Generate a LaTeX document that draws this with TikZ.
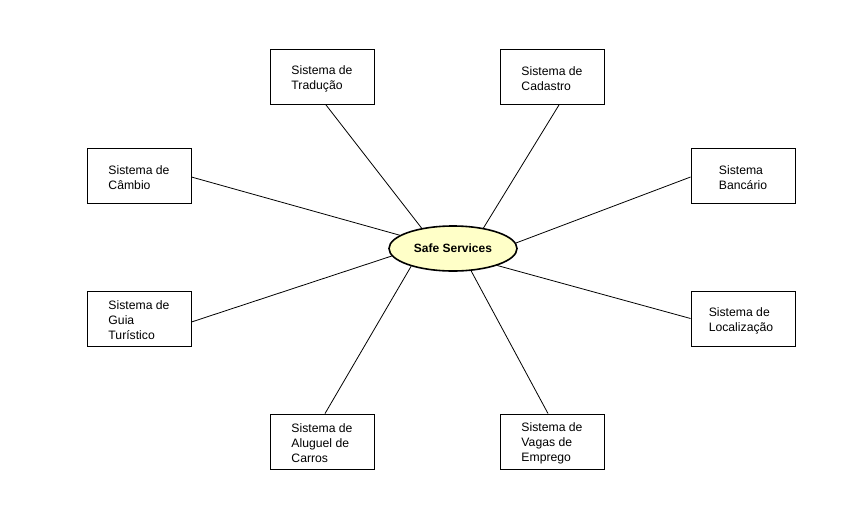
\documentclass[tikz,border=0pt]{standalone}
\usepackage{fontspec}
\setmainfont{Liberation Sans}
\usetikzlibrary{shapes.geometric}
\definecolor{ellfill}{HTML}{FFFFC8}
\begin{document}
\begin{tikzpicture}[x=1pt,y=-1pt,
  sysbox/.style={draw, line width=0.9pt, minimum width=104pt, minimum height=55pt, inner sep=0pt},
  systext/.style={inner sep=0pt, align=left, font=\fontsize{12.2}{15}\selectfont},
  hub/.style={ellipse, draw, line width=1.6pt, fill=ellfill, minimum width=128pt, minimum height=45pt,
    inner sep=0pt, font=\fontsize{12}{15}\selectfont\bfseries},
  link/.style={line width=0.8pt}]
\useasboundingbox (0,0) rectangle (853,517);
\node[hub] (safe) at (453,248.5) {Safe Services};
\node[sysbox] (trad) at (322,77) {};
\node[sysbox] (cad) at (552,77) {};
\node[sysbox] (camb) at (139,175.5) {};
\node[sysbox] (banc) at (743,175.5) {};
\node[sysbox] (guia) at (139,318.5) {};
\node[sysbox] (loc) at (743,318.5) {};
\node[sysbox] (alug) at (322,441.5) {};
\node[sysbox] (vagas) at (552,441.5) {};
\node[systext] (tradt) at ([yshift=-2pt]trad.center) {Sistema de\\Tradução};
\node[systext] (cadt) at ([yshift=-2pt]cad.center) {Sistema de\\Cadastro};
\node[systext] (cambt) at ([yshift=-2pt]camb.center) {Sistema de\\Câmbio};
\node[systext] (banct) at ([yshift=-2pt]banc.center) {Sistema\\Bancário};
\node[systext] (guiat) at ([yshift=-2pt]guia.center) {Sistema de\\Guia\\Turístico};
\node[systext] (loct) at ([yshift=-2pt,xshift=-2pt]loc.center) {Sistema de\\Localização};
\node[systext] (alugt) at ([yshift=-2pt]alug.center) {Sistema de\\Aluguel de\\Carros};
\node[systext] (vagast) at ([yshift=-2pt]vagas.center) {Sistema de\\Vagas de\\Emprego};
\draw[link] ([xshift=4pt]trad.south) -- (safe.147.8);
\draw[link] ([xshift=7pt]cad.south) -- (safe.34.5);
\draw[link] ([yshift=-1.5pt]camb.east) -- (safe.166);
\draw[link] ([yshift=-1.5pt]banc.west) -- (safe.5.7);
\draw[link] ([yshift=-3.5pt]guia.east) -- (safe.187.9);
\draw[link] (loc.west) -- (safe.339.8);
\draw[link] ([xshift=3pt]alug.north) -- (safe.203.5);
\draw[link] ([xshift=-4pt]vagas.north) -- (safe.309.6);
\end{tikzpicture}
\end{document}
